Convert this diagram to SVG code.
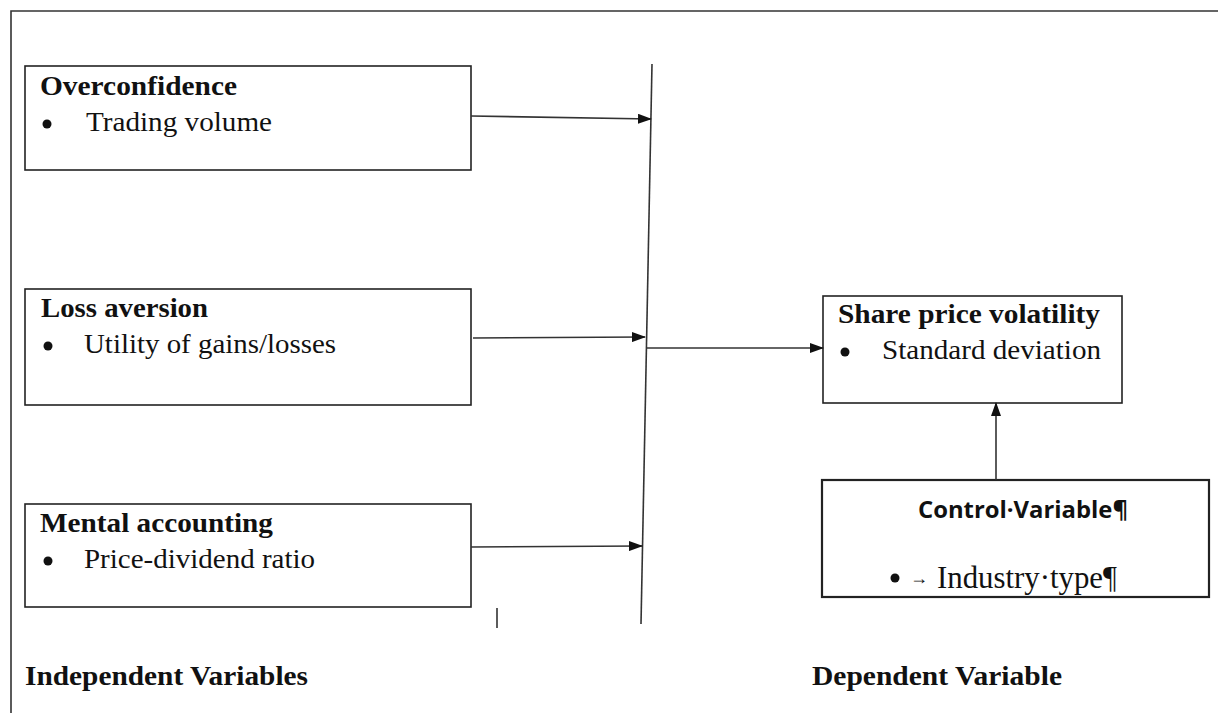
<svg xmlns="http://www.w3.org/2000/svg" width="1218" height="713" viewBox="0 0 1218 713">
<defs>
<marker id="ah" markerWidth="14" markerHeight="10" refX="13" refY="5" orient="auto" markerUnits="userSpaceOnUse">
<path d="M0,0 L14,5 L0,10 Z" fill="#111"/>
</marker>
</defs>
<style>
.box{fill:#fff;stroke:#222;stroke-width:1.6}
.ln{stroke:#333;stroke-width:1.6;fill:none}
.ttl{font-family:"Liberation Serif",serif;font-weight:bold;font-size:28px;fill:#111}
.itm{font-family:"Liberation Serif",serif;font-size:28px;fill:#111}
.sans{font-family:"Open Sans","Liberation Sans",sans-serif;font-weight:bold;font-size:24px;fill:#111}
</style>
<rect width="1218" height="713" fill="#fff"/>
<g id="frame">
<path class="ln" d="M11,713 V11 H1218"/>
</g>
<g id="overconfidence">
<rect class="box" x="25" y="66" width="446" height="104"/>
<text class="ttl" x="40" y="95" textLength="197" lengthAdjust="spacingAndGlyphs">Overconfidence</text>
<circle cx="47" cy="124" r="4.5" fill="#111"/>
<text class="itm" x="86" y="131" textLength="186" lengthAdjust="spacingAndGlyphs">Trading volume</text>
</g>
<g id="loss-aversion">
<rect class="box" x="25" y="289" width="446" height="116"/>
<text class="ttl" x="41" y="317" textLength="167" lengthAdjust="spacingAndGlyphs">Loss aversion</text>
<circle cx="48" cy="346" r="4.5" fill="#111"/>
<text class="itm" x="84" y="353" textLength="252" lengthAdjust="spacingAndGlyphs">Utility of gains/losses</text>
</g>
<g id="mental-accounting">
<rect class="box" x="25" y="504" width="446" height="103"/>
<text class="ttl" x="40" y="532" textLength="233" lengthAdjust="spacingAndGlyphs">Mental accounting</text>
<circle cx="48" cy="561" r="4.5" fill="#111"/>
<text class="itm" x="84" y="568" textLength="231" lengthAdjust="spacingAndGlyphs">Price-dividend ratio</text>
</g>
<g id="share-price-volatility">
<rect class="box" x="823" y="296" width="299" height="107"/>
<text class="ttl" x="838" y="323" textLength="262" lengthAdjust="spacingAndGlyphs">Share price volatility</text>
<circle cx="845" cy="352" r="4.5" fill="#111"/>
<text class="itm" x="882" y="359" textLength="219" lengthAdjust="spacingAndGlyphs">Standard deviation</text>
</g>
<g id="control-variable">
<rect class="box" x="822" y="480" width="387" height="117" style="stroke-width:2.2"/>
<text class="sans" x="918" y="518" textLength="210" lengthAdjust="spacingAndGlyphs">Control·Variable¶</text>
<circle cx="895" cy="578" r="4.5" fill="#111"/>
<text class="itm" x="910" y="584" style="font-size:18px">→</text>
<text class="itm" x="937" y="588" textLength="180" lengthAdjust="spacingAndGlyphs" style="font-size:31px">Industry·type¶</text>
</g>
<g id="connectors">
<path class="ln" d="M652,64 L641,624"/>
<path class="ln" d="M471,116 L651,119" marker-end="url(#ah)"/>
<path class="ln" d="M473,338 L645,337" marker-end="url(#ah)"/>
<path class="ln" d="M471,547 L642,546" marker-end="url(#ah)"/>
<path class="ln" d="M646,348 L823,348" marker-end="url(#ah)"/>
<path class="ln" d="M996,480 L996,403" marker-end="url(#ah)"/>
<path class="ln" d="M497,608 L497,628"/>
</g>
<g id="labels">
<text class="ttl" x="25" y="685" textLength="283" lengthAdjust="spacingAndGlyphs">Independent Variables</text>
<text class="ttl" x="812" y="685" textLength="250" lengthAdjust="spacingAndGlyphs">Dependent Variable</text>
</g>
</svg>
